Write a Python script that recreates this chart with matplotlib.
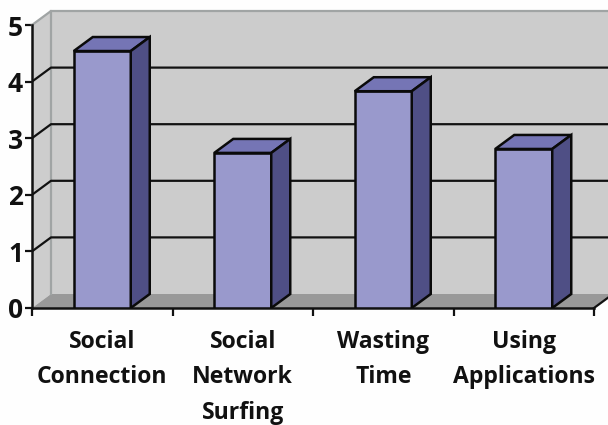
import matplotlib
matplotlib.use("Agg")
import matplotlib.pyplot as plt
from matplotlib.patches import Polygon

categories = ["Social\nConnection", "Social\nNetwork\nSurfing", "Wasting\nTime", "Using\nApplications"]
values = [4.54, 2.74, 3.83, 2.81]
yticks = [0, 1, 2, 3, 4, 5]

plt.rcParams['font.family'] = ['Open Sans', 'DejaVu Sans']

W, H = 608, 425
px_x = 140.5   # pixels per category
px_y = 56.6    # pixels per value unit
dx = 19 / px_x  # depth of the 3d box
dy = 14 / px_y
bar_w = 57 / px_x

fig = plt.figure(figsize=(W / 100, H / 100), dpi=100, facecolor="#fefefe")
ax = fig.add_axes([32 / W, (H - 308) / H, (W - 32) / W, (308 - 12) / H])
ax.set_xlim(0, (W - 32) / px_x)
ax.set_ylim(0, (308 - 12) / px_y)
for s in ax.spines.values():
    s.set_visible(False)
ax.patch.set_visible(False)

xmax = ax.get_xlim()[1]
ymax = 5

# walls and floor
ax.add_patch(Polygon([(dx, dy), (xmax, dy), (xmax, ymax + dy), (dx, ymax + dy)], fc="#cccccc", ec="none", zorder=1))
ax.add_patch(Polygon([(0, 0), (dx, dy), (dx, ymax + dy), (0, ymax)], fc="#cdcdcd", ec="none", zorder=1))
ax.add_patch(Polygon([(0, 0), (dx, dy), (xmax, dy), (xmax, (xmax - 4) * dy / dx), (4, 0)], fc="#999999", ec="none", zorder=1))
ax.plot([0, dx, dx], [ymax, ymax + dy, dy], color="#a0a4a4", lw=1.6, zorder=2, clip_on=False)
ax.plot([dx, xmax], [ymax + dy, ymax + dy], color="#a0a4a4", lw=1.6, zorder=2, clip_on=False)

# gridlines
for t in yticks[1:-1]:
    ax.plot([0, dx, xmax], [t, t + dy, t + dy], color="#111111", lw=1.6, zorder=2)
ax.plot([0, 0], [0, ymax], color="#111111", lw=1.8, zorder=3, clip_on=False)
ax.plot([0, 4], [0, 0], color="#111111", lw=1.8, zorder=3, clip_on=False)
ax.plot([4, xmax], [0, (xmax - 4) * dy / dx], color="#111111", lw=1.6, zorder=3)

# bars
for i, v in enumerate(values):
    x0 = i + 0.5 - 0.5 * bar_w
    x1 = x0 + bar_w
    ax.add_patch(Polygon([(x0, 0), (x1, 0), (x1, v), (x0, v)], fc="#9999cc", ec="#0a0a0a", lw=1.8, joinstyle="miter", zorder=4))
    ax.add_patch(Polygon([(x0, v), (x1, v), (x1 + dx, v + dy), (x0 + dx, v + dy)], fc="#7575b5", ec="#0a0a0a", lw=1.8, joinstyle="miter", zorder=4))
    ax.add_patch(Polygon([(x1, 0), (x1 + dx, dy), (x1 + dx, v + dy), (x1, v)], fc="#4f4f85", ec="#0a0a0a", lw=1.8, joinstyle="miter", zorder=4))

ax.set_yticks(yticks)
ax.set_yticklabels([str(t) for t in yticks], fontsize=19, fontweight="bold", color="#111111")
ax.tick_params(axis="y", length=5, width=1.6, color="#111111", pad=1.5)
ax.set_xticks([0, 1, 2, 3, 4])
ax.set_xticklabels([""] * 5)
ax.tick_params(axis="x", length=6, width=1.6, color="#111111")

for i, c in enumerate(categories):
    ax.annotate(c, (i + 0.5, 0), xytext=(0, -16), textcoords="offset points", ha="center", va="top",
                fontsize=16.6, fontweight="bold", color="#111111", linespacing=1.62, annotation_clip=False)

fig.savefig("out.png", dpi=100, facecolor=fig.get_facecolor())
